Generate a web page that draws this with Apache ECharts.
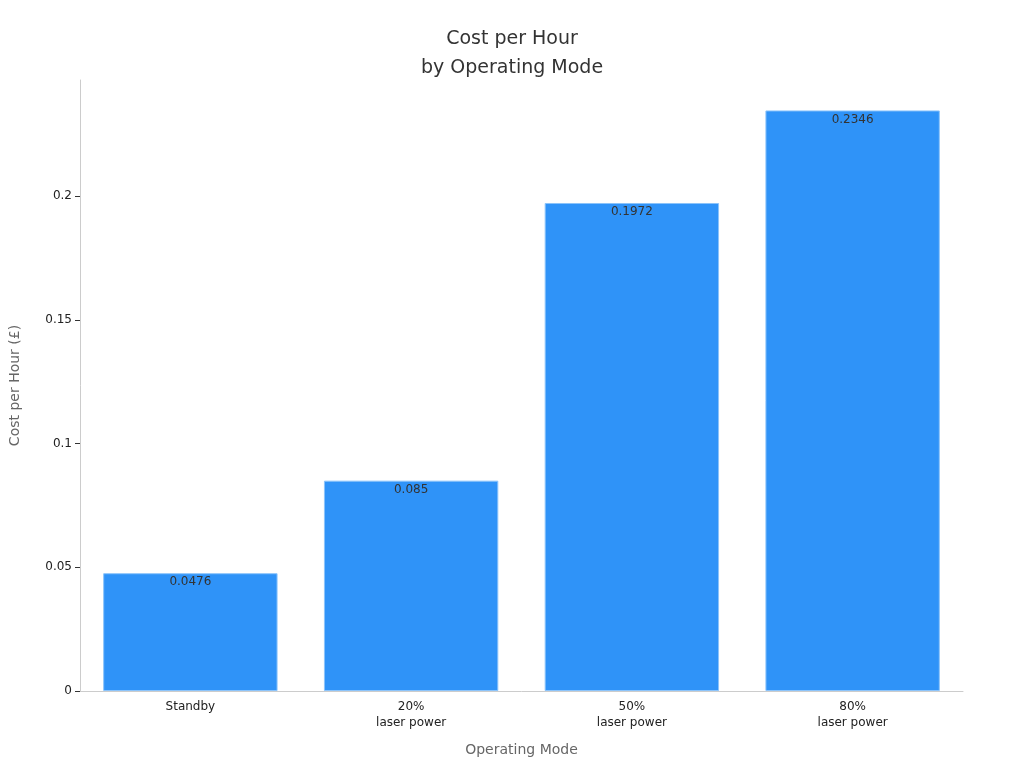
<!DOCTYPE html>
<html>
<head>
<meta charset="utf-8">
<script src="https://cdn.jsdelivr.net/npm/echarts@6/dist/echarts.min.js"></script>
<style>html,body{margin:0;padding:0;background:#fff}#main{width:1024px;height:768px}</style>
</head>
<body>
<div id="main"></div>
<script>
const categories = ['Standby', '20%\nlaser power', '50%\nlaser power', '80%\nlaser power'];
const costValues = [0.0476, 0.085, 0.1972, 0.2346];

const chart = echarts.init(document.getElementById('main'));
chart.setOption({
  textStyle: { fontFamily: 'DejaVu Sans' },
  title: {
    text: 'Cost per Hour\nby Operating Mode',
    left: 'center', top: 20,
    textStyle: { fontSize: 19, fontWeight: 'normal', color: '#333', lineHeight: 29, fontFamily: 'DejaVu Sans' }
  },
  grid: { left: 72, right: 61, top: 80, bottom: 77 },
  xAxis: {
    type: 'category',
    data: categories,
    name: 'Operating Mode', nameLocation: 'middle', nameGap: 52,
    nameTextStyle: { color: '#666', fontSize: 14 },
    axisLine: { lineStyle: { color: '#ccc' } },
    axisTick: { show: false },
    axisLabel: { color: '#222', fontSize: 12, lineHeight: 16 }
  },
  yAxis: {
    type: 'value', min: 0, max: 0.2469, interval: 0.05,
    name: 'Cost per Hour (£)', nameLocation: 'middle', nameGap: 58,
    nameTextStyle: { color: '#666', fontSize: 14 },
    axisLine: { show: true, lineStyle: { color: '#ccc' } },
    axisTick: { show: true, lineStyle: { color: '#333' } },
    splitLine: { show: false },
    axisLabel: { color: '#222', fontSize: 12, showMaxLabel: false }
  },
  series: [{
    type: 'bar',
    data: costValues,
    barCategoryGap: '21%',
    itemStyle: { color: '#2f93f8', borderColor: '#8cc4fb', borderWidth: 1 },
    label: { show: true, position: 'insideTop', color: '#333', fontSize: 12, offset: [0, -2] }
  }]
});
</script>
</body>
</html>
